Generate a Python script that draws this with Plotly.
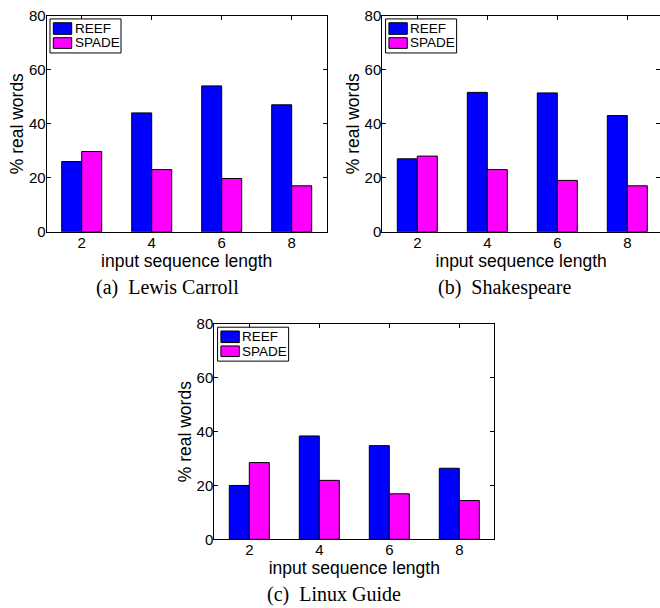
import plotly.graph_objects as go

# ---------------- data ----------------
seq_len = [2, 4, 6, 8]
series_names = ["REEF", "SPADE"]
series_colors = ["#0000FF", "#FF00FF"]

carroll_reef = [26, 44, 54, 47]
carroll_spade = [29.7, 23, 19.7, 17]

shakespeare_reef = [27, 51.6, 51.4, 43]
shakespeare_spade = [28, 23, 19, 17]

linux_reef = [20, 38.4, 34.8, 26.4]
linux_spade = [28.5, 21.9, 16.9, 14.4]

y_ticks = [0, 20, 40, 60, 80]
x_title = "input sequence length"
y_title = "% real words"
captions = ["(a)\u00a0 Lewis Carroll", "(b)\u00a0 Shakespeare", "(c)\u00a0 Linux Guide"]

panels = [
    (carroll_reef, carroll_spade),
    (shakespeare_reef, shakespeare_spade),
    (linux_reef, linux_spade),
]

W, H = 660, 608
SANS = "Liberation Sans, Arial, Helvetica, sans-serif"
SERIF = "Liberation Serif, Times New Roman, serif"

# panel geometry in pixels: (left, right, top, bottom) and x range
geom = [
    (46.7, 326.7, 15.7, 231.7, [1, 9]),
    (382.3, 660.0, 15.7, 231.7, [1, 1 + (660.0 - 382.3) / 35.0]),
    (214.3, 494.3, 324.0, 539.3, [1, 9]),
]

fig = go.Figure()
axis_suffix = ["", "2", "3"]

for i, (reef, spade) in enumerate(panels):
    sfx = axis_suffix[i]
    for name, vals, col in zip(series_names, (reef, spade), series_colors):
        fig.add_trace(go.Bar(
            x=seq_len, y=vals, name=name,
            marker=dict(color=col, line=dict(color="#000000", width=1)),
            xaxis="x" + sfx, yaxis="y" + sfx, showlegend=False,
        ))

layout = dict(
    width=W, height=H,
    margin=dict(l=0, r=0, t=0, b=0),
    paper_bgcolor="white", plot_bgcolor="white",
    barmode="group", bargap=0.4286, bargroupgap=0,
    font=dict(family=SANS, size=15, color="black"),
    showlegend=False,
)

shapes = []
annotations = []

for i, (l, r, t, b, xr) in enumerate(geom):
    sfx = axis_suffix[i]
    common = dict(
        showline=True, linecolor="black", linewidth=1, mirror="ticks",
        ticks="inside", ticklen=4, tickcolor="black", tickwidth=1,
        showgrid=False, zeroline=False, automargin=False,
        tickfont=dict(family=SANS, size=15, color="black"),
        ticklabelstandoff=-3,
    )
    layout["xaxis" + sfx] = dict(
        common, domain=[l / W, r / W], range=xr,
        tickvals=seq_len, anchor="y" + sfx,
        title=dict(text=x_title, font=dict(family=SANS, size=17.5), standoff=0),
    )
    layout["yaxis" + sfx] = dict(
        common, domain=[1 - b / H, 1 - t / H], range=[0, 80],
        tickvals=y_ticks, anchor="x" + sfx,
        title=dict(text=y_title, font=dict(family=SANS, size=17.5), standoff=0),
    )

    xref, yref = "x" + sfx, "y" + sfx
    # legend box
    shapes.append(dict(type="rect", xref=xref, yref=yref,
                       x0=1.094, x1=3.123, y0=66.2, y1=78.8,
                       line=dict(color="black", width=1), fillcolor="white"))
    sw = [(73.1, 77.4, 75.2), (67.9, 71.85, 69.9)]
    for (y0, y1, yt), name, col in zip(sw, series_names, series_colors):
        shapes.append(dict(type="rect", xref=xref, yref=yref,
                           x0=1.189, x1=1.714, y0=y0, y1=y1,
                           line=dict(color="black", width=1), fillcolor=col))
        annotations.append(dict(text=name, xref=xref, yref=yref,
                                x=1.74, y=yt, xanchor="left", yanchor="middle",
                                showarrow=False,
                                font=dict(family=SANS, size=13.5, color="black")))

cap_pos = [(168, 297), (504, 297), (334, 604)]
for cap, (cx, cy) in zip(captions, cap_pos):
    annotations.append(dict(text=cap, xref="paper", yref="paper",
                            x=cx / W, y=1 - (cy + 4) / H,
                            xanchor="center", yanchor="bottom",
                            showarrow=False,
                            font=dict(family=SERIF, size=20, color="black")))

layout["shapes"] = shapes
layout["annotations"] = annotations
fig.update_layout(**layout)

fig.write_html(
    "out.html",
    config={"displayModeBar": False},
    post_script="document.body.style.margin='0';document.body.style.overflow='hidden';",
)
